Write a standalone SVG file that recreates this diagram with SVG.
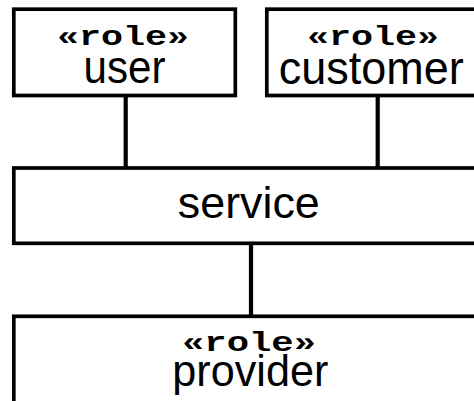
<svg xmlns="http://www.w3.org/2000/svg" width="474" height="401" viewBox="0 0 474 401">
<style>
.box{fill:#fff;stroke:#000;stroke-width:3.7}
.conn{stroke:#000;stroke-width:4.2;fill:none}
.st{font-family:"Liberation Mono","Courier New",monospace;font-weight:bold;font-size:28px;text-anchor:middle}
.nm{font-family:"Liberation Sans",Arial,sans-serif;text-anchor:middle}
</style>
<rect width="474" height="401" fill="#fff"/>
<g id="connectors">
<line class="conn" x1="125.7" y1="95.5" x2="125.7" y2="168"/>
<line class="conn" x1="377.7" y1="95.5" x2="377.7" y2="168"/>
<line class="conn" x1="251" y1="243.3" x2="251" y2="316.3"/>
</g>
<g id="user">
<rect class="box" x="13.8" y="9.2" width="221.5" height="86.3"/>
<text class="st" x="123" y="45" textLength="132" lengthAdjust="spacingAndGlyphs">«role»</text>
<text class="nm" x="124.5" y="83.3" font-size="47" textLength="82" lengthAdjust="spacingAndGlyphs">user</text>
</g>
<g id="customer">
<rect class="box" x="266.8" y="9.2" width="221.7" height="86.3"/>
<text class="st" x="373" y="45" textLength="132" lengthAdjust="spacingAndGlyphs">«role»</text>
<text class="nm" x="371.3" y="84.3" font-size="47" textLength="185" lengthAdjust="spacingAndGlyphs">customer</text>
</g>
<g id="service">
<rect class="box" x="13.8" y="168" width="474.7" height="75.3"/>
<text class="nm" x="248.8" y="218.3" font-size="44" textLength="142" lengthAdjust="spacingAndGlyphs">service</text>
</g>
<g id="provider">
<rect class="box" x="13.8" y="316.3" width="474.7" height="100"/>
<text class="st" x="249" y="351" textLength="134" lengthAdjust="spacingAndGlyphs">«role»</text>
<text class="nm" x="250.3" y="385.7" font-size="45" textLength="156" lengthAdjust="spacingAndGlyphs">provider</text>
</g>
</svg>
